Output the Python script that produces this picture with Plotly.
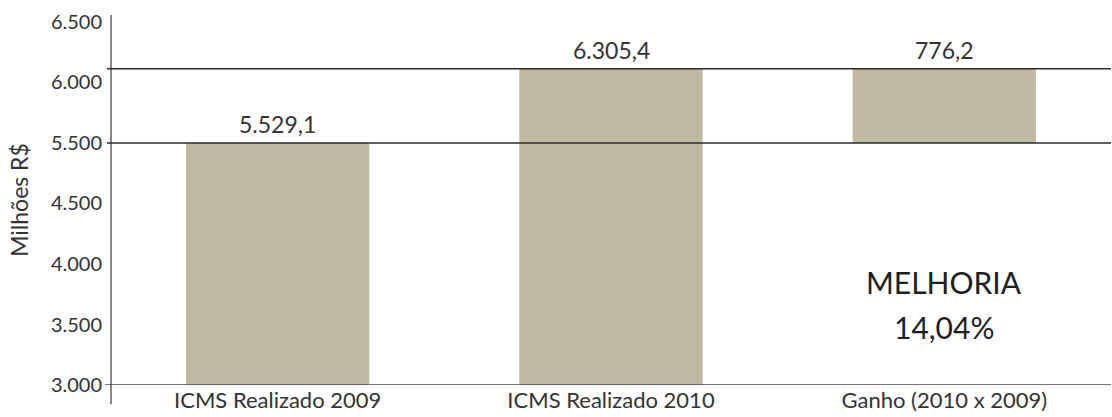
import numpy as np
import plotly.graph_objects as go

categories = ["ICMS Realizado 2009", "ICMS Realizado 2010", "Ganho (2010 x 2009)"]
realizado_2009 = 5529.1
realizado_2010 = 6305.4
ganho = 776.2
value_labels = ["5.529,1", "6.305,4", "776,2"]
y_tick_labels = ["3.000", "3.500", "4.000", "4.500", "5.500", "6.000", "6.500"]
melhoria_label = "MELHORIA"
melhoria_pct = "14,04%"
y_title = "Milhões R$"

Y_MIN = 3000
Y_MAX = 6866
Y_LABEL_TOP = 6793

tops = [realizado_2009, realizado_2010, realizado_2009 + ganho]
bases = [Y_MIN, Y_MIN, realizado_2009]
heights = [t - b for t, b in zip(tops, bases)]

BAR = "#c0baa3"
TXT = "#333333"
FONT = "Lato, 'Open Sans', sans-serif"

fig = go.Figure()
fig.add_trace(go.Bar(
    x=categories, y=heights, base=bases,
    marker=dict(color=BAR, line=dict(width=0)),
    width=0.55, hoverinfo="skip", showlegend=False,
))

for c, t, lab in zip(categories, tops, value_labels):
    fig.add_annotation(x=c, y=t, text=lab, showarrow=False, yanchor="bottom",
                       yshift=3, font=dict(family=FONT, size=23, color=TXT))

fig.add_annotation(x=categories[2], y=0.278, yref="paper", yanchor="middle", text=melhoria_label,
                   showarrow=False, font=dict(family=FONT, size=30, color="#1e1e1e"))
fig.add_annotation(x=categories[2], y=0.157, yref="paper", yanchor="middle", text=melhoria_pct,
                   showarrow=False, font=dict(family=FONT, size=30, color="#1e1e1e"))

line_style = dict(color="#2b2b2b", width=1.5)
# reference lines at the realized values
for v in [realizado_2009, realizado_2010]:
    fig.add_shape(type="line", xref="paper", yref="y", x0=-0.004, x1=1, y0=v, y1=v,
                  line=line_style, layer="above")
# x axis line
fig.add_shape(type="line", xref="paper", yref="y", x0=-0.006, x1=1, y0=Y_MIN, y1=Y_MIN,
              line=dict(color="#444444", width=1.5), layer="above")
# y axis line
fig.add_shape(type="line", xref="paper", yref="paper", x0=0, x1=0, y0=-0.052, y1=1,
              line=dict(color="#333333", width=1.2), layer="above")

fig.update_layout(
    width=1112, height=417,
    margin=dict(l=111, r=1, t=15, b=32),
    paper_bgcolor="white", plot_bgcolor="white",
    font=dict(family=FONT, color=TXT),
    xaxis=dict(range=[-0.5, 2.5], showgrid=False, showline=False, zeroline=False,
               automargin=False, ticks="",
               tickfont=dict(family=FONT, size=22, color=TXT)),
    yaxis=dict(range=[Y_MIN, Y_MAX], showgrid=False, showline=False, zeroline=False,
               automargin=False,
               tickvals=list(np.linspace(Y_MIN, Y_LABEL_TOP, len(y_tick_labels))),
               ticktext=y_tick_labels,
               ticks="outside", ticklen=4, tickcolor="rgba(0,0,0,0)",
               tickfont=dict(family=FONT, size=20, color=TXT),
               title=dict(text=y_title, font=dict(family=FONT, size=23, color=TXT), standoff=15)),
)

fig.write_html("out.html", config={"displayModeBar": False},
               post_script="document.body.style.margin='0px';document.body.style.overflow='hidden';")
